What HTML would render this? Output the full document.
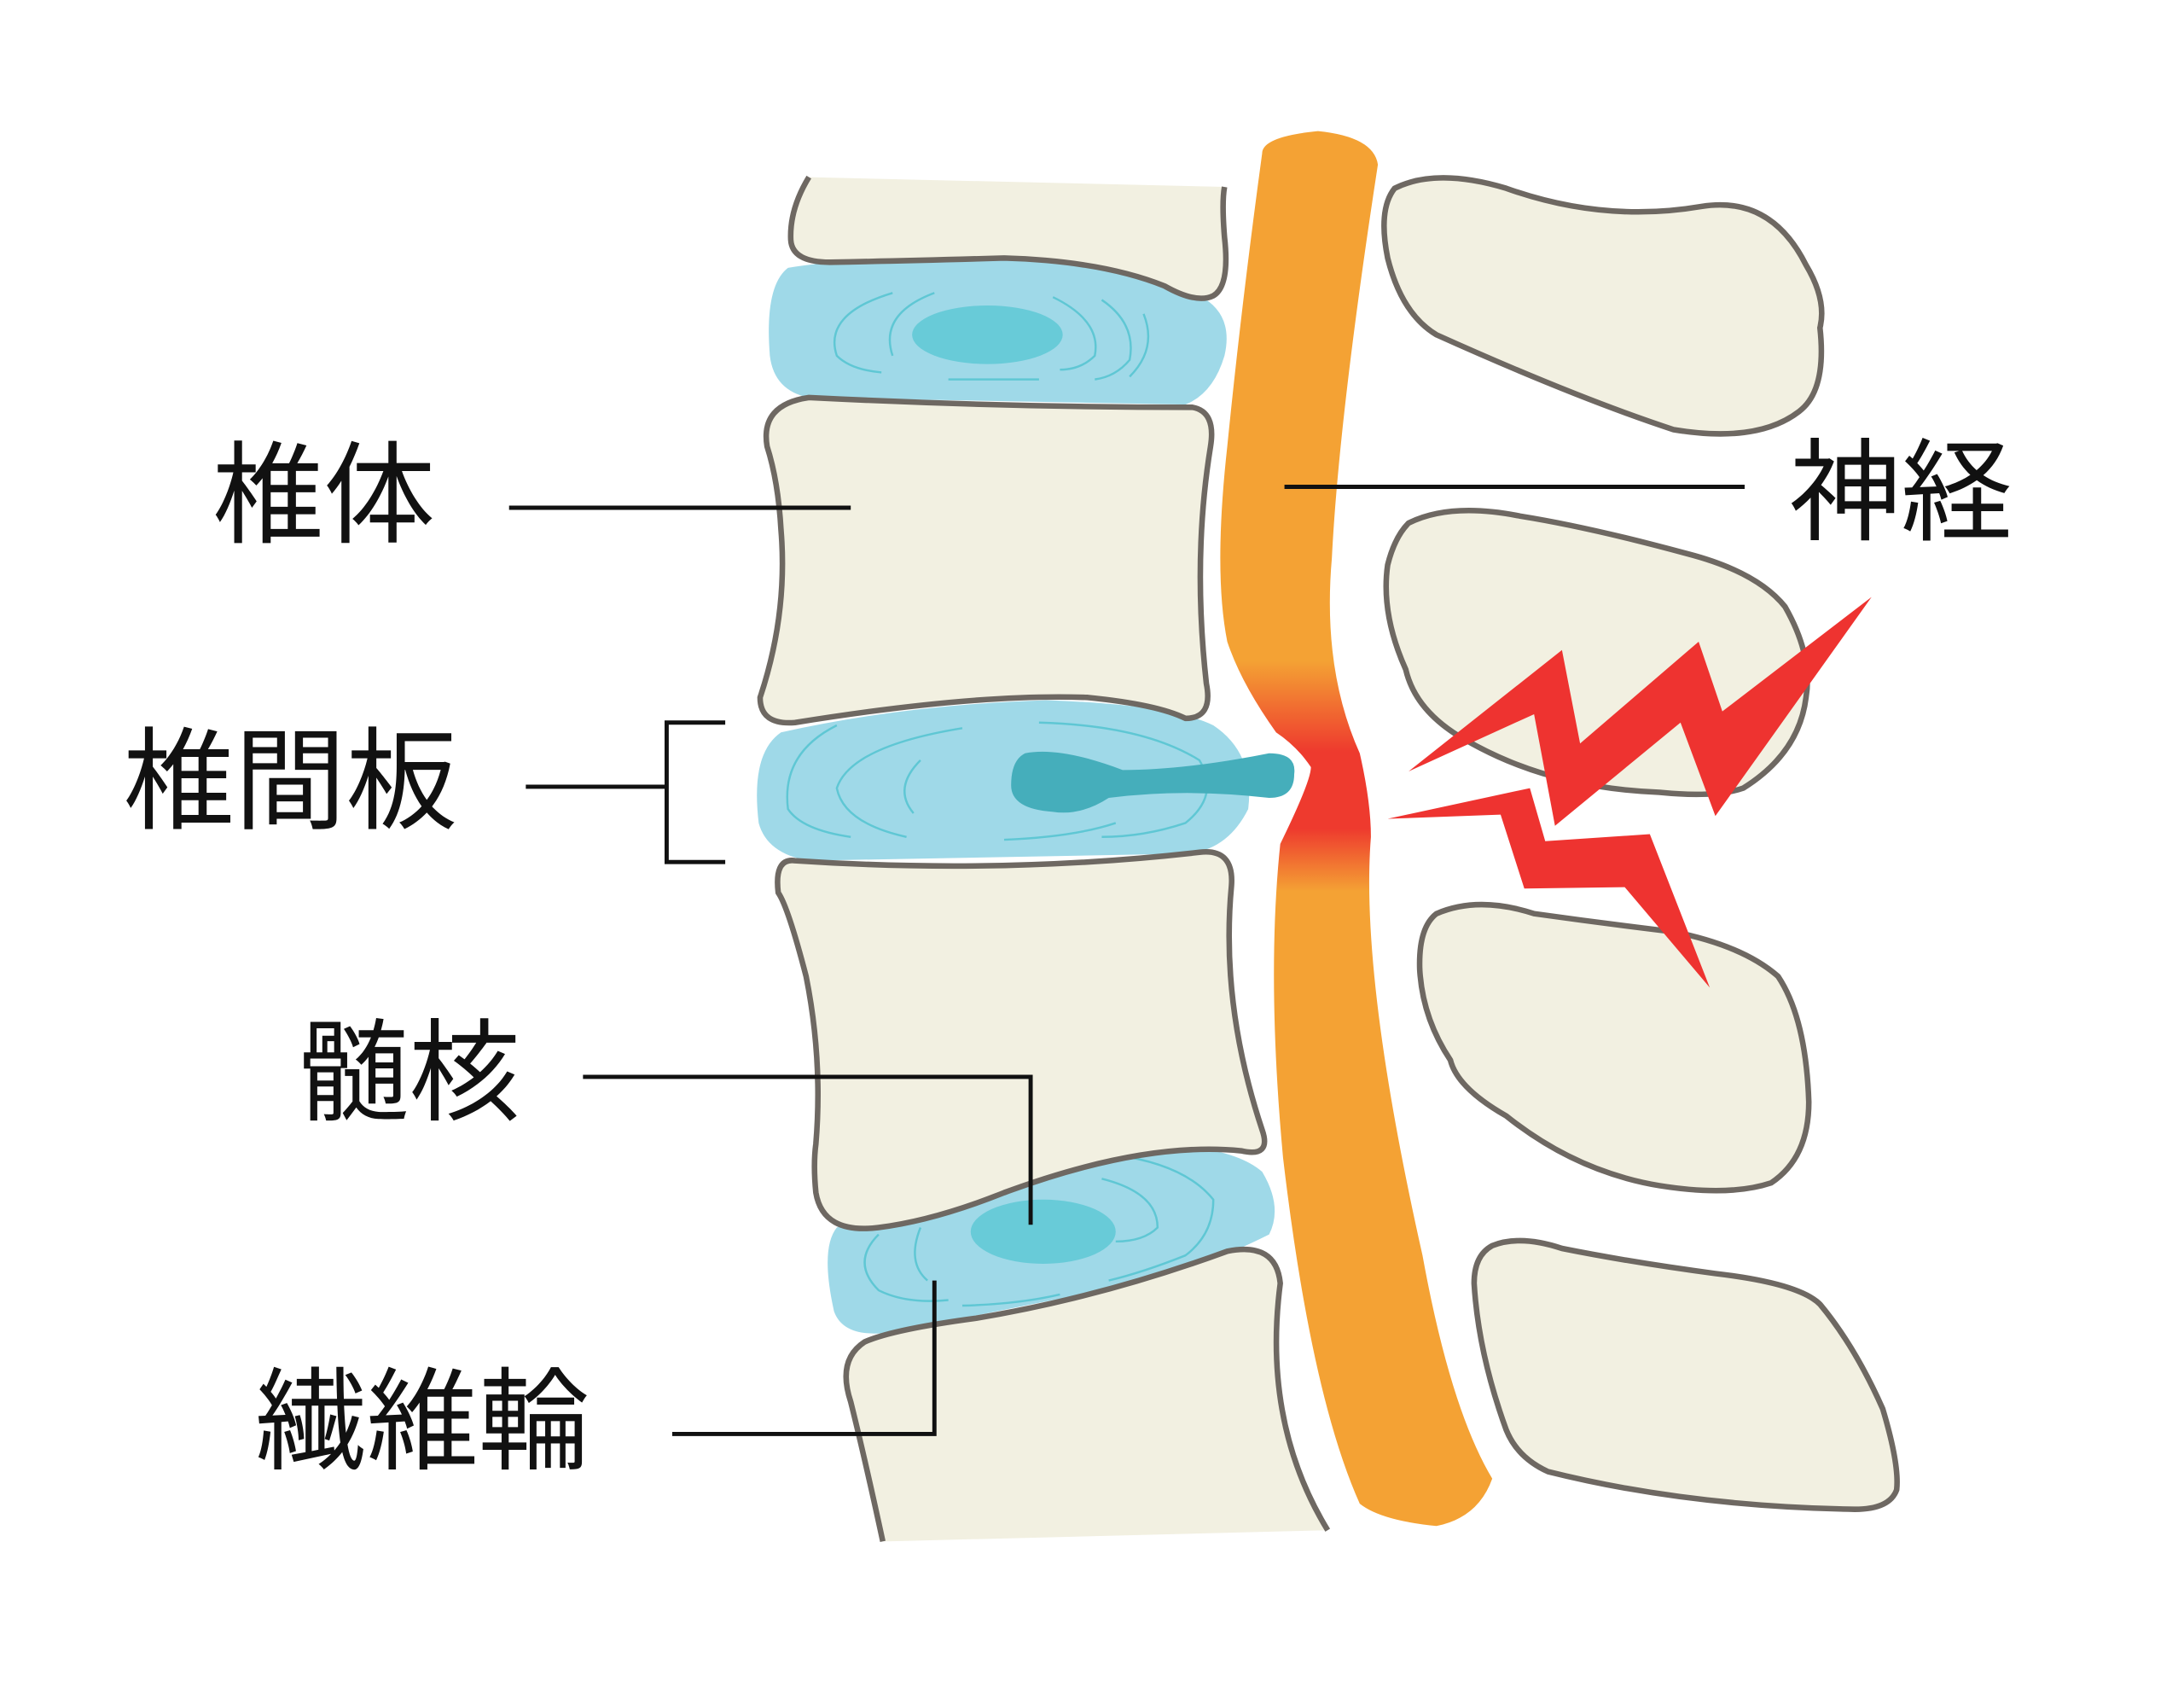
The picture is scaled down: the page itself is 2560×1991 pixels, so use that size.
<!DOCTYPE html>
<html><head><meta charset="utf-8"><style>
html,body{margin:0;padding:0;background:#fff;}
svg{display:block;}
text{font-family:"Liberation Sans","Noto Sans CJK JP",sans-serif;fill:#111;}
</style></head><body>
<svg width="2560" height="1991" viewBox="0 0 1566 1218" xmlns="http://www.w3.org/2000/svg">
<defs>
<linearGradient id="ng" x1="0" y1="0" x2="0" y2="1">
<stop offset="0" stop-color="#f4a234"/>
<stop offset="0.38" stop-color="#f4a234"/>
<stop offset="0.445" stop-color="#ee3a2e"/>
<stop offset="0.5" stop-color="#ee3a2e"/>
<stop offset="0.545" stop-color="#f4a234"/>
<stop offset="1" stop-color="#f4a234"/>
</linearGradient>
</defs>
<g fill="#9fd9e8">
<path d="M565,192 Q620,183 720,185 Q800,187 860,212 Q885,225 878,255 Q870,282 850,290 L580,285 Q555,280 552,255 Q548,205 565,192Z"/>
<path d="M560,525 Q650,505 750,502 Q840,505 870,520 Q900,540 895,580 Q880,610 850,612 L580,617 Q550,612 544,590 Q538,540 560,525Z"/>
<path d="M600,880 Q700,835 800,820 Q880,818 905,840 Q920,865 910,885 Q880,900 840,915 L640,955 Q605,960 598,940 Q588,895 600,880Z"/>
</g>
<g fill="none" stroke="#5fc7d4" stroke-width="1.5">
<path d="M640,210 Q590,225 600,255 Q610,265 632,267"/>
<path d="M670,210 Q630,225 640,255"/>
<path d="M755,213 Q790,230 785,255 Q775,265 760,265"/>
<path d="M790,215 Q815,232 810,258 Q800,270 785,272"/>
<path d="M820,225 Q830,250 810,270"/>
<path d="M680,272 L745,272"/>
<path d="M600,520 Q560,540 565,580 Q575,595 610,600"/>
<path d="M690,522 Q610,535 600,565 Q605,590 650,600"/>
<path d="M660,545 Q640,565 655,583"/>
<path d="M745,518 Q820,520 860,545 Q875,570 850,590 Q820,600 790,600"/>
<path d="M720,602 Q770,600 800,590"/>
<path d="M630,885 Q610,905 630,925 Q650,935 680,932"/>
<path d="M660,880 Q650,905 665,918"/>
<path d="M800,828 Q850,835 870,860 Q870,885 850,900 Q820,912 795,918"/>
<path d="M790,845 Q830,855 830,880 Q820,890 800,890"/>
<path d="M690,936 Q730,935 760,928"/>
</g>
<ellipse cx="708" cy="240" rx="54" ry="21" fill="#68cbd8"/>
<ellipse cx="748" cy="883" rx="52" ry="23" fill="#68cbd8"/>
<path d="M735,540 Q760,535 805,552 Q850,552 910,540 Q930,540 928,555 Q928,572 910,572 Q850,565 795,572 Q775,585 755,582 Q725,580 725,563 Q725,545 735,540Z" fill="#45aebb"/>
<g fill="#f2f0e1" stroke="#6e6862" stroke-width="4" stroke-linejoin="round">
<path d="M580,127 L878,134 Q875,150 878,175 Q882,210 870,214 Q858,220 835,205 Q780,185 720,185 Q650,185 595,188 Q570,190 568,175 Q566,155 580,127Z" stroke="none"/>
<path d="M580,127 Q566,150 567,172 Q568,188 595,188 Q650,187 720,185 Q790,187 835,205 Q858,218 870,212 Q882,205 878,170 Q876,145 878,134" fill="none"/>
<path d="M580,285 Q720,292 855,292 Q872,295 868,320 Q855,400 865,490 Q870,515 850,515 Q830,505 780,500 Q700,497 570,518 Q545,520 545,500 Q565,440 560,380 Q558,345 550,320 Q545,290 580,285Z"/>
<path d="M570,617 Q720,627 860,611 Q885,608 883,635 Q875,720 905,810 Q912,830 890,825 Q820,818 720,855 Q670,875 630,880 Q590,885 585,855 Q583,835 585,820 Q590,760 578,700 Q565,650 558,640 Q555,615 570,617Z"/>
<path d="M637,1105 L633,1105 Q620,1045 610,1005 Q600,975 620,962 Q640,953 700,945 Q790,930 880,897 Q915,890 918,920 Q905,1020 952,1097 Z" stroke="none"/>
<path d="M633,1105 Q620,1045 610,1005 Q600,975 620,962 Q640,953 700,945 Q790,930 880,897 Q915,890 918,920 Q905,1020 952,1097" fill="none"/>
</g>
<path d="M905,110 Q905,98 945,94 Q985,98 988,118 Q960,300 955,400 Q948,480 975,540 Q983,575 983,600 Q975,700 1020,900 Q1040,1010 1070,1060 Q1060,1088 1030,1094 Q990,1090 975,1078 Q940,1000 920,830 Q908,700 918,605 Q940,560 940,550 Q930,535 915,525 Q890,490 880,460 Q870,410 880,320 Q890,220 905,110Z" fill="url(#ng)"/>
<g fill="#f2f0e1" stroke="#6e6862" stroke-width="4">
<path d="M1000,135 Q1030,120 1080,135 Q1150,160 1220,148 Q1270,140 1295,190 Q1310,215 1305,235 Q1310,280 1290,295 Q1260,318 1200,308 Q1130,285 1030,240 Q1005,225 995,185 Q988,150 1000,135Z"/>
<path d="M1010,375 Q1040,360 1090,370 Q1140,378 1210,397 Q1260,410 1280,435 Q1300,470 1295,500 Q1290,540 1250,565 Q1230,572 1190,568 Q1110,565 1050,530 Q1015,510 1008,480 Q990,440 995,405 Q1000,385 1010,375Z"/>
<path d="M1030,655 Q1060,642 1100,655 Q1150,662 1200,668 Q1250,678 1275,700 Q1295,730 1297,790 Q1297,830 1270,848 Q1240,858 1190,850 Q1130,840 1080,800 Q1045,780 1040,760 Q1020,730 1018,695 Q1017,665 1030,655Z"/>
<path d="M1070,893 Q1090,885 1120,895 Q1170,905 1230,913 Q1290,920 1305,935 Q1330,965 1350,1010 Q1362,1050 1360,1068 Q1355,1082 1330,1082 Q1210,1080 1110,1055 Q1088,1045 1080,1025 Q1060,970 1057,920 Q1057,900 1070,893Z"/>
</g>
<g fill="#ee3330">
<path d="M1342,428 L1230,585 L1205,518 L1115,592 L1100,512 L1010,553 L1120,466 L1133,533 L1218,460 L1235,510Z"/>
<path d="M995,587 L1097,565 L1108,603 L1183,598 L1226,708 L1165,636 L1093,637 L1076,584Z"/>
</g>
<g stroke="#111" stroke-width="3" fill="none">
<path d="M365,364 L610,364"/>
<path d="M377,564 L478,564 M520,518 L478,518 L478,618 L520,618"/>
<path d="M418,772 L739,772 L739,878"/>
<path d="M482,1028 L670,1028 L670,918"/>
<path d="M921,349 L1251,349"/>
</g>
<g font-size="80">
<text x="152" y="383">椎体</text>
<text x="88" y="588">椎間板</text>
<text x="213" y="797">髄核</text>
<text x="183" y="1047">繊維輪</text>
<text x="1283" y="381">神経</text>
</g>
</svg>
</body></html>
